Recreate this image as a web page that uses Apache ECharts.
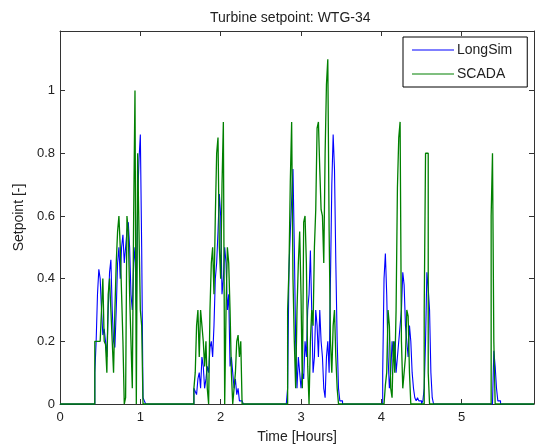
<!DOCTYPE html>
<html><head><meta charset="utf-8">
<script src="https://cdn.jsdelivr.net/npm/echarts@6/dist/echarts.min.js"></script>
<style>html,body{margin:0;padding:0;background:#fff}#c{width:536px;height:445px}</style>
</head><body><div id="c"></div>
<script>
const xTickValues = [0, 1, 2, 3, 4, 5];
const yTickValues = [0, 0.2, 0.4, 0.6, 0.8, 1];
const sampleHours = 1 / 60;
const totalSamples = 355;
const burstStartMinutes = [26, 99, 169, 240, 320];

const longSimBurst1 = [0.1,0.2,0.35,0.43,0.4,0.3,0.22,0.24,0.2,0.15,0.3,0.42,0.46,0.3,0.2,0.18,0.3,0.45,0.5,0.4,0.5,0.54,0.45,0.5,0.55,0.58,0.5,0.35,0.3,0.45,0.5,0.3,0.65,0.78,0.86,0.5,0.02,0.01,0];
const longSimBurst2 = [0,0.05,0.04,0.03,0.08,0.1,0.05,0.15,0.12,0.05,0.08,0.12,0.1,0.18,0.2,0.15,0.25,0.4,0.45,0.55,0.67,0.6,0.35,0.4,0.5,0.45,0.3,0.35,0.12,0.15,0.1,0.05,0.08,0.03,0.05,0.01,0.01,0.01,0,0];
const longSimBurst3 = [0,0.05,0.43,0.55,0.65,0.75,0.5,0.2,0.05,0.15,0.1,0.05,0.1,0.08,0.2,0.15,0.3,0.35,0.49,0.3,0.1,0.15,0.3,0.25,0.15,0.3,0.2,0.15,0.05,0.02,0.15,0.2,0.1,0.4,0.7,0.86,0.75,0.45,0.2,0.05,0.01,0.01,0,0];
const longSimBurst4 = [0,0.1,0.4,0.48,0.35,0.15,0.05,0.1,0.2,0.15,0.2,0.1,0.15,0.2,0.25,0.3,0.42,0.38,0.25,0.2,0.15,0.25,0.2,0.1,0.05,0.02,0.01,0.02,0.01,0.01,0,0.01,0.05,0.2,0.42,0.37,0.3,0.1,0.02,0,0];
const longSimBurst5 = [0,0,0,0,0.17,0.12,0.05,0.01,0.01,0];

const scadaBurst1 = [0.2,0.2,0.2,0.2,0.2,0.3,0.4,0.2,0.19,0.1,0.35,0.4,0.3,0.2,0.1,0.3,0.45,0.55,0.6,0.5,0.35,0.2,0,0.02,0.6,0.55,0.35,0.2,0.05,0.6,1.0,0,0.8,0.55,0.3,0.25,0,0,0];
const scadaBurst2 = [0,0.05,0.1,0.25,0.3,0.15,0.3,0.25,0.2,0.12,0.2,0.05,0,0.3,0.45,0.5,0.35,0.6,0.8,0.85,0.5,0.4,0.7,0.9,0,0.3,0.5,0.45,0.3,0.1,0,0.05,0.1,0.2,0.22,0.15,0.2,0,0,0];
const scadaBurst3 = [0,0.3,0.43,0.71,0.9,0.4,0.2,0.05,0.3,0.45,0.55,0.35,0.05,0.58,0.6,0.45,0.12,0,0.2,0.3,0.25,0.5,0.62,0.88,0.9,0.75,0.62,0.6,0.45,0.8,1.02,1.1,0.55,0.2,0.1,0.25,0.3,0.15,0.05,0,0,0,0,0];
const scadaBurst4 = [0,0,0,0.06,0.1,0.3,0.25,0.05,0.02,0.2,0.1,0.3,0.69,0.85,0.9,0.2,0.05,0.1,0.15,0.3,0.28,0.1,0,0,0,0,0,0,0,0,0,0,0.3,0.8,0.8,0.1,0,0,0,0,0];
const scadaBurst5 = [0,0,0.6,0.8,0.2,0,0,0,0,0];

function buildSeries(bursts) {
  const vals = new Array(totalSamples).fill(0);
  bursts.forEach((b, k) => {
    b.forEach((v, i) => { vals[burstStartMinutes[k] + i] = v; });
  });
  return vals.map((v, i) => [i * sampleHours, v]);
}
const longSimData = buildSeries([longSimBurst1, longSimBurst2, longSimBurst3, longSimBurst4, longSimBurst5]);
const scadaData = buildSeries([scadaBurst1, scadaBurst2, scadaBurst3, scadaBurst4, scadaBurst5]);

const font = 'Liberation Sans, Arial, sans-serif';
const axisColor = '#333';
const textColor = '#222';
function frameAxis(pos, extra) {
  return Object.assign({
    type: 'value', position: pos,
    axisLine: { show: true, onZero: false, lineStyle: { color: axisColor, width: 1 } },
    axisTick: { show: true, inside: true, length: 5, lineStyle: { color: axisColor } },
    splitLine: { show: false }
  }, extra);
}
const chart = echarts.init(document.getElementById('c'));
chart.setOption({
  animation: false,
  backgroundColor: '#fff',
  title: {
    text: 'Turbine setpoint: WTG-34',
    left: 205, top: 6,
    textStyle: { fontFamily: font, fontSize: 14, fontWeight: 'normal', color: textColor }
  },
  legend: {
    data: ['LongSim', 'SCADA'],
    orient: 'vertical',
    left: 403, top: 37,
    backgroundColor: '#fff',
    borderColor: '#000', borderWidth: 1,
    borderRadius: 0,
    padding: [6, 15, 6, 9],
    itemGap: 10,
    itemWidth: 42, itemHeight: 1,
    icon: 'rect',
    textStyle: { fontFamily: font, fontSize: 14, color: textColor, padding: [0, 0, 0, -2] }
  },
  grid: { left: 60, right: 2, top: 31, bottom: 41, containLabel: false, outerBoundsMode: 'none' },
  xAxis: [
    frameAxis('bottom', {
      min: 0, max: 5.9,
      axisTick: { show: true, inside: true, length: 5, customValues: xTickValues, lineStyle: { color: axisColor } },
      axisLabel: { customValues: xTickValues, margin: 7, fontFamily: font, fontSize: 13, color: textColor },
      name: 'Time [Hours]', nameLocation: 'middle', nameGap: 26,
      nameTextStyle: { fontFamily: font, fontSize: 14, color: textColor }
    }),
    frameAxis('top', {
      min: 0, max: 5.9,
      axisTick: { show: true, inside: true, length: 5, customValues: xTickValues, lineStyle: { color: axisColor } },
      axisLabel: { show: false }
    })
  ],
  yAxis: [
    frameAxis('left', {
      min: 0, max: 1.19,
      axisTick: { show: true, inside: true, length: 5, customValues: yTickValues, lineStyle: { color: axisColor } },
      axisLabel: { customValues: yTickValues, margin: 5, fontFamily: font, fontSize: 13, color: textColor },
      name: 'Setpoint [-]', nameLocation: 'middle', nameGap: 30,
      nameTextStyle: { fontFamily: font, fontSize: 14, color: textColor }
    }),
    frameAxis('right', {
      min: 0, max: 1.19,
      axisTick: { show: true, inside: true, length: 5, customValues: yTickValues, lineStyle: { color: axisColor } },
      axisLabel: { show: false }
    })
  ],
  series: [{
    name: 'LongSim', type: 'line', data: longSimData,
    xAxisIndex: 0, yAxisIndex: 0,
    step: 'end', symbol: 'none', clip: false,
    color: '#0000ff',
    lineStyle: { color: '#0000ff', width: 1.1 }
  }, {
    name: 'SCADA', type: 'line', data: scadaData,
    xAxisIndex: 0, yAxisIndex: 0,
    step: 'end', symbol: 'none', clip: false,
    color: '#008000',
    lineStyle: { color: '#008000', width: 1.3 }
  }]
});
</script>
</body></html>
